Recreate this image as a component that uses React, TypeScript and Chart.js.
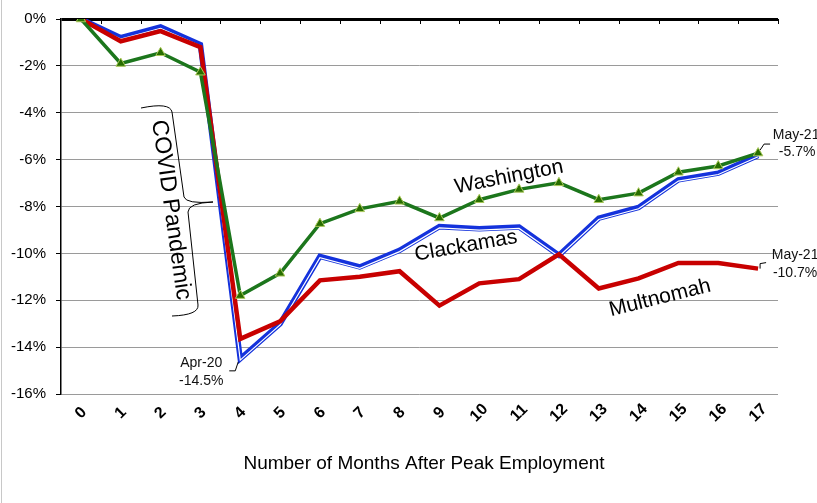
import React, { useEffect, useRef } from 'react';
import { Chart, registerables } from 'chart.js';
Chart.register(...registerables);

const months = ['0', '1', '2', '3', '4', '5', '6', '7', '8', '9', '10', '11', '12', '13', '14', '15', '16', '17'];
const washington = [0, -1.9, -1.44, -2.27, -11.8, -10.85, -8.73, -8.1, -7.78, -8.49, -7.71, -7.27, -6.99, -7.71, -7.43, -6.54, -6.27, -5.72];
const clackamas = [0, -0.8, -0.34, -1.09, -14.5, -13.0, -10.13, -10.58, -9.87, -8.86, -8.95, -8.88, -10.08, -8.5, -8.04, -6.86, -6.58, -5.82];
const multnomah = [0, -0.95, -0.52, -1.2, -13.65, -12.9, -11.15, -11.0, -10.76, -12.23, -11.28, -11.1, -10.04, -11.5, -11.07, -10.41, -10.41, -10.65];
const yTicksMin = -16;
const yTicksMax = 0;
const xAxisTitle = 'Number of Months After Peak Employment';
const seriesNames = ['Washington', 'Clackamas', 'Multnomah'];
const pandemicLabel = 'COVID Pandemic';
const callouts = [
  { series: 0, index: 17, lines: ['May-21', '-5.7%'] },
  { series: 2, index: 17, lines: ['May-21', '-10.7%'] },
  { series: 3, index: 4, lines: ['Apr-20', '-14.5%'] },
];

const FONT = '"Liberation Sans", Arial, sans-serif';
const WHITE_IDX = 2;

function rotText(ctx: CanvasRenderingContext2D, text: string, x: number, y: number, deg: number, font: string) {
  ctx.save();
  ctx.translate(x, y);
  ctx.rotate((deg * Math.PI) / 180);
  ctx.font = font;
  ctx.fillStyle = '#000';
  ctx.textAlign = 'center';
  ctx.textBaseline = 'middle';
  ctx.fillText(text, 0, 0);
  ctx.restore();
}

const offsetPlugin = {
  id: 'offsetWhite',
  beforeDatasetDraw(chart: any, args: any) {
    if (args.index === WHITE_IDX) {
      chart.ctx.save();
      chart.ctx.translate(0, 1.3);
    }
  },
  afterDatasetDraw(chart: any, args: any) {
    if (args.index === WHITE_IDX) chart.ctx.restore();
  },
};

const decorPlugin = {
  id: 'decor',
  afterDraw(chart: any) {
    const ctx: CanvasRenderingContext2D = chart.ctx;
    const xs = chart.scales.x;
    const ys = chart.scales.y;
    const area = chart.chartArea;
    ctx.save();
    // outer left border
    ctx.strokeStyle = '#c8c8c8';
    ctx.lineWidth = 1;
    ctx.beginPath();
    ctx.moveTo(1.5, 0);
    ctx.lineTo(1.5, 503);
    ctx.stroke();

    // top axis tick marks at category boundaries
    const y0 = ys.getPixelForValue(0);
    const band = (area.right - area.left) / months.length;
    ctx.strokeStyle = '#000';
    ctx.lineWidth = 1;
    for (let i = 1; i <= months.length; i++) {
      const x = Math.round(area.left + i * band) + 0.5;
      ctx.beginPath();
      ctx.moveTo(x, y0);
      ctx.lineTo(x, y0 + 5);
      ctx.stroke();
    }

    // x tick labels rotated
    months.forEach((m, i) => {
      const x = xs.getPixelForValue(i);
      rotText(ctx, m, x, 413, -45, 'bold 16px ' + FONT);
    });

    // axis title
    ctx.font = '19px ' + FONT;
    ctx.fillStyle = '#000';
    ctx.textAlign = 'center';
    ctx.textBaseline = 'middle';
    ctx.fillText(xAxisTitle, 424, 464);

    // series labels
    rotText(ctx, seriesNames[0], 509, 177, -11, '21px ' + FONT);
    rotText(ctx, seriesNames[1], 466, 246, -10, '21px ' + FONT);
    rotText(ctx, seriesNames[2], 660, 298, -14, '21px ' + FONT);

    // COVID Pandemic
    rotText(ctx, pandemicLabel, 171, 210, 82, '23px ' + FONT);

    // brace
    ctx.strokeStyle = '#000';
    ctx.lineWidth = 1;
    ctx.beginPath();
    ctx.moveTo(141, 108);
    ctx.quadraticCurveTo(170, 102, 172, 112);
    ctx.lineTo(184, 197);
    ctx.quadraticCurveTo(186, 204, 213, 202);
    ctx.moveTo(213, 202);
    ctx.quadraticCurveTo(188, 203, 188, 212);
    ctx.lineTo(198, 305);
    ctx.quadraticCurveTo(199, 315, 172, 316);
    ctx.stroke();

    // callouts
    ctx.font = '14px ' + FONT;
    ctx.fillStyle = '#111';
    ctx.textBaseline = 'middle';
    ctx.textAlign = 'center';
    const p0 = chart.getDatasetMeta(0).data[callouts[0].index];
    ctx.beginPath();
    ctx.moveTo(p0.x + 2, p0.y - 3);
    ctx.lineTo(p0.x + 6, p0.y - 9);
    ctx.lineTo(p0.x + 12, p0.y - 9);
    ctx.stroke();
    ctx.fillText(callouts[0].lines[0], p0.x + 38, p0.y - 18);
    ctx.fillText(callouts[0].lines[1], p0.x + 39, p0.y - 1);

    const p1 = chart.getDatasetMeta(1).data[callouts[1].index];
    ctx.beginPath();
    ctx.moveTo(p1.x + 2, p1.y);
    ctx.lineTo(p1.x + 2, p1.y - 5);
    ctx.lineTo(p1.x + 8, p1.y - 6);
    ctx.stroke();
    ctx.fillText(callouts[1].lines[0], p1.x + 37, p1.y - 13);
    ctx.fillText(callouts[1].lines[1], p1.x + 37, p1.y + 5);

    const p2 = chart.getDatasetMeta(3).data[callouts[2].index];
    ctx.beginPath();
    ctx.moveTo(p2.x - 2, p2.y + 3);
    ctx.lineTo(p2.x - 5, p2.y + 12);
    ctx.lineTo(p2.x - 11, p2.y + 12);
    ctx.stroke();
    ctx.fillText(callouts[2].lines[0], p2.x - 39, p2.y + 4);
    ctx.fillText(callouts[2].lines[1], p2.x - 39, p2.y + 22);
    ctx.restore();
  },
};

export default function App() {
  const ref = useRef<HTMLCanvasElement>(null);
  useEffect(() => {
    document.body.style.margin = '0';
    const chart = new Chart(ref.current!, {
      type: 'line',
      data: {
        labels: months,
        datasets: [
          {
            label: seriesNames[0],
            data: washington,
            borderColor: 'rgb(28,118,28)',
            borderWidth: 3.5,
            pointStyle: 'triangle',
            pointRadius: 5.5,
            pointBackgroundColor: 'rgb(40,110,0)',
            pointBorderColor: 'rgb(170,200,90)',
            pointBorderWidth: 1,
            tension: 0,
            order: 1,
          },
          {
            label: seriesNames[2],
            data: multnomah,
            borderColor: 'rgb(200,0,0)',
            borderWidth: 4.5,
            pointRadius: 0,
            tension: 0,
            order: 2,
          },
          {
            label: 'white',
            data: clackamas,
            borderColor: '#ffffff',
            borderWidth: 1.2,
            pointRadius: 0,
            tension: 0,
            order: 3,
          },
          {
            label: seriesNames[1],
            data: clackamas,
            borderColor: 'rgb(20,50,220)',
            borderWidth: 5.5,
            pointRadius: 0,
            tension: 0,
            order: 4,
          },
        ],
      },
      options: {
        animation: false,
        responsive: true,
        maintainAspectRatio: false,
        layout: { padding: { top: 17, right: 39, bottom: 109, left: 0 } },
        plugins: { legend: { display: false }, tooltip: { enabled: false } },
        scales: {
          x: { type: 'category', display: false, offset: true },
          y: {
            min: yTicksMin,
            max: yTicksMax,
            ticks: {
              stepSize: 2,
              callback: (v: any) => v + '%',
              font: { family: FONT, size: 15 },
              color: '#000',
              padding: 10,
            },
            grid: {
              color: (c: any) => (c.tick && c.tick.value === 0 ? '#000' : '#9a9a9a'),
              lineWidth: (c: any) => (c.tick && c.tick.value === 0 ? 3 : 1),
              tickLength: 5,
              tickColor: '#000',
              tickWidth: 1,
            },
            border: { color: '#000', width: 1.5 },
            afterFit: (s: any) => {
              s.width = 61;
            },
          },
        },
      },
      plugins: [offsetPlugin, decorPlugin],
    } as any);
    return () => chart.destroy();
  }, []);
  return (
    <div style={{ width: 817, height: 503, position: 'relative' }}>
      <canvas ref={ref} />
    </div>
  );
}
